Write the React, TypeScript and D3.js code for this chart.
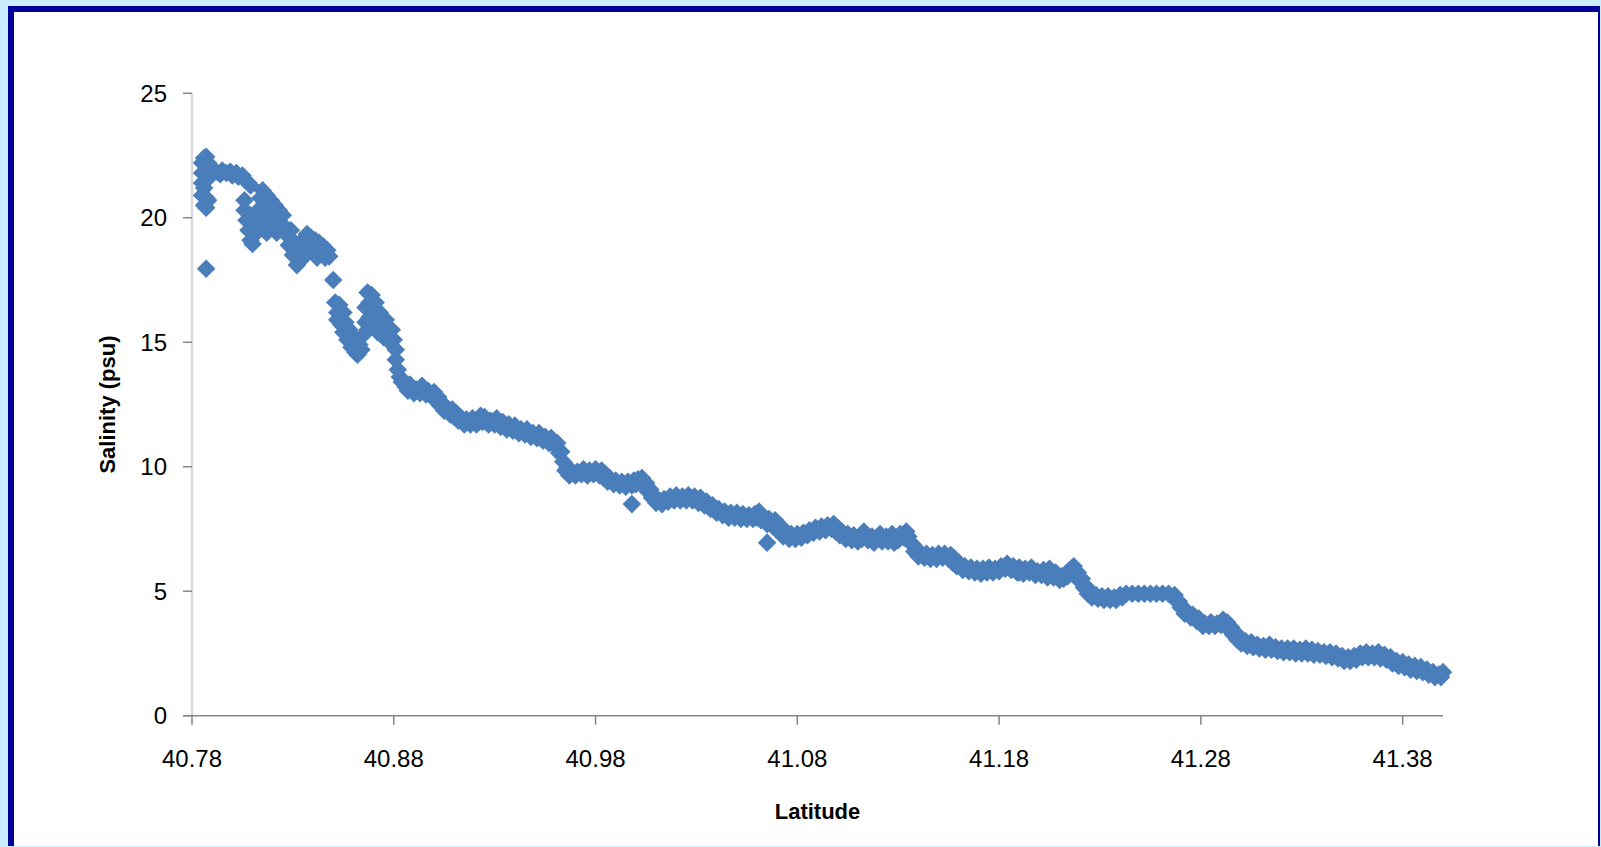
import React from 'react';
import * as d3 from 'd3';

// latitude / salinity readings, split by stretch of the river
const mouthCluster: [number, number][] = [
  [40.785, 22.2], [40.786, 22.4], [40.787, 22.45], [40.788, 22.2], [40.785, 21.8],
  [40.787, 21.9], [40.789, 21.95], [40.785, 21.4], [40.787, 21.5], [40.786, 21.2],
  [40.785, 20.9], [40.787, 20.8], [40.786, 20.5], [40.787, 20.4], [40.788, 20.7],
  [40.787, 17.95],
  [40.790, 21.8], [40.792, 21.85], [40.794, 21.75], [40.795, 21.9], [40.797, 21.8],
  [40.799, 21.85], [40.800, 21.7], [40.802, 21.8], [40.803, 21.65], [40.805, 21.7],
  [40.806, 21.55], [40.808, 21.4], [40.809, 21.3],
  [40.806, 20.7], [40.806, 20.3], [40.807, 19.9], [40.808, 19.5], [40.809, 19.1],
  [40.810, 18.95], [40.810, 19.6], [40.809, 20.1], [40.812, 19.4], [40.813, 19.8],
  [40.814, 20.4], [40.814, 20.8], [40.815, 21.1], [40.816, 20.6], [40.816, 20.1],
  [40.815, 19.6], [40.817, 19.4], [40.818, 19.9], [40.818, 20.5], [40.817, 20.9],
  [40.819, 20.7], [40.820, 20.2], [40.820, 19.6], [40.821, 20.5], [40.822, 19.9],
  [40.822, 19.4], [40.823, 20.3], [40.824, 19.8], [40.825, 20.1], [40.826, 19.5],
  [40.827, 19.3], [40.828, 18.9], [40.829, 19.5], [40.830, 18.5], [40.831, 19.0],
  [40.832, 18.1], [40.833, 18.6], [40.834, 18.3], [40.835, 18.9], [40.836, 19.2],
  [40.837, 19.35], [40.838, 18.7], [40.839, 19.2], [40.840, 18.6], [40.841, 19.1],
  [40.842, 18.4], [40.843, 19.0], [40.844, 18.6], [40.845, 18.85], [40.846, 18.4],
  [40.847, 18.7], [40.848, 18.45], [40.850, 17.5],
  [40.851, 16.6], [40.852, 16.2], [40.853, 16.5], [40.852, 15.9], [40.854, 15.7],
  [40.855, 16.2], [40.855, 15.4], [40.856, 15.8], [40.857, 15.1], [40.858, 15.5],
  [40.859, 14.8], [40.860, 15.2], [40.861, 14.6], [40.862, 14.5], [40.863, 14.9],
  [40.864, 14.7], [40.865, 15.3], [40.866, 15.8], [40.866, 16.4], [40.867, 17.0],
  [40.868, 16.6], [40.868, 16.0], [40.867, 15.5], [40.869, 16.9], [40.870, 16.4],
  [40.870, 15.7], [40.871, 16.6], [40.872, 16.1], [40.872, 15.4], [40.873, 16.2],
  [40.874, 15.7], [40.875, 15.2], [40.876, 15.9], [40.877, 15.4], [40.878, 15.0],
  [40.879, 15.5], [40.880, 15.1], [40.881, 14.7], [40.881, 14.3], [40.882, 13.9],
  [40.883, 13.6], [40.884, 13.4], [40.886, 13.2],
];

const lowerRiver: [number, number][] = [
  [40.888, 13.3], [40.891, 13.1], [40.894, 13.25], [40.897, 13.05], [40.900, 13.0],
  [40.902, 12.8], [40.904, 12.55], [40.906, 12.4], [40.909, 12.3], [40.911, 12.15],
  [40.913, 12.0], [40.916, 11.9], [40.919, 11.95], [40.922, 11.9], [40.923, 12.05],
  [40.925, 12.0], [40.928, 11.85], [40.931, 11.95], [40.934, 11.8], [40.937, 11.7],
  [40.940, 11.65], [40.943, 11.5], [40.946, 11.5], [40.949, 11.35], [40.952, 11.35],
  [40.955, 11.2], [40.958, 11.15], [40.961, 10.95], [40.963, 10.6], [40.964, 10.2],
  [40.966, 9.95], [40.968, 9.85], [40.971, 9.8], [40.974, 9.9], [40.977, 9.85],
  [40.980, 9.9], [40.983, 9.85], [40.985, 9.7], [40.987, 9.55], [40.990, 9.45],
  [40.993, 9.4], [40.996, 9.4], [40.999, 9.45], [41.001, 9.5], [41.003, 9.55],
  [41.005, 9.35], [41.007, 9.1], [41.009, 8.85], [41.011, 8.65], [41.014, 8.7],
  [41.017, 8.8], [41.020, 8.85], [41.023, 8.8], [41.026, 8.85], [41.029, 8.8],
  [41.032, 8.75], [41.035, 8.6], [41.038, 8.45], [41.041, 8.3], [41.044, 8.2],
  [41.047, 8.15], [41.050, 8.15], [41.053, 8.1], [41.056, 8.05], [41.059, 8.1],
  [41.061, 8.2], [41.063, 8.0], [41.066, 7.9], [41.069, 7.85], [41.072, 7.6],
  [41.074, 7.35], [41.077, 7.3], [41.080, 7.3], [41.083, 7.35], [41.086, 7.45],
  [41.089, 7.55], [41.092, 7.6], [41.095, 7.65], [41.098, 7.7], [41.100, 7.55],
  [41.102, 7.4], [41.105, 7.3], [41.108, 7.25], [41.111, 7.2], [41.113, 7.4],
  [41.117, 7.2], [41.120, 7.15], [41.121, 7.3], [41.124, 7.2], [41.127, 7.3],
  [41.129, 7.15], [41.131, 7.3], [41.134, 7.4], [41.135, 7.2], [41.137, 6.9],
  [41.139, 6.7],
];

// lower edge of the same stretch (the band is wider than one marker)
const lowerRiverB: [number, number][] = [
  [40.887, 13.05], [40.890, 12.95], [40.893, 12.95], [40.896, 12.9], [40.899, 12.8],
  [40.901, 12.65], [40.903, 12.45], [40.905, 12.25], [40.908, 12.1], [40.910, 12.0],
  [40.912, 11.85], [40.915, 11.7], [40.918, 11.7], [40.921, 11.7], [40.924, 11.8],
  [40.927, 11.7], [40.930, 11.7], [40.933, 11.6], [40.936, 11.5], [40.939, 11.45],
  [40.942, 11.35], [40.945, 11.3], [40.948, 11.2], [40.951, 11.15], [40.954, 11.05],
  [40.957, 10.95], [40.960, 10.85], [40.962, 10.55], [40.965, 9.85], [40.967, 9.65],
  [40.970, 9.65], [40.973, 9.7], [40.976, 9.65], [40.979, 9.7], [40.982, 9.65],
  [40.984, 9.55], [40.986, 9.4], [40.989, 9.3], [40.992, 9.25], [40.995, 9.2],
  [40.998, 9.25], [41.000, 9.3], [41.002, 9.35], [41.004, 9.25], [41.006, 9.0],
  [41.008, 8.75], [41.010, 8.55], [41.013, 8.5], [41.016, 8.6], [41.019, 8.65],
  [41.022, 8.65], [41.025, 8.65], [41.028, 8.65], [41.031, 8.55], [41.034, 8.45],
  [41.037, 8.3], [41.040, 8.15], [41.043, 8.05], [41.046, 7.95], [41.049, 7.95],
  [41.052, 7.9], [41.055, 7.9], [41.058, 7.9], [41.060, 7.95], [41.062, 7.85],
  [41.065, 7.7], [41.068, 7.6], [41.070, 7.45], [41.073, 7.2], [41.076, 7.1],
  [41.079, 7.1], [41.082, 7.15], [41.085, 7.25], [41.088, 7.35], [41.091, 7.4],
  [41.094, 7.45], [41.097, 7.5], [41.099, 7.4], [41.101, 7.25], [41.104, 7.1],
  [41.107, 7.05], [41.110, 7.0], [41.112, 7.1], [41.115, 7.05], [41.118, 6.95],
  [41.122, 7.0], [41.125, 7.0], [41.128, 6.95], [41.130, 7.05], [41.133, 7.15],
  [41.136, 6.95], [41.138, 6.6],
];

const upperRiver: [number, number][] = [
  [41.141, 6.55], [41.144, 6.5], [41.147, 6.45], [41.150, 6.5], [41.153, 6.5],
  [41.156, 6.45], [41.158, 6.3], [41.160, 6.15], [41.163, 6.0], [41.166, 5.95],
  [41.169, 5.9], [41.172, 5.9], [41.175, 5.95], [41.178, 5.9], [41.181, 6.0],
  [41.184, 6.1], [41.187, 6.0], [41.190, 5.95], [41.190, 5.75], [41.193, 5.9],
  [41.196, 5.95], [41.199, 5.8], [41.202, 5.85], [41.205, 5.7], [41.205, 5.9],
  [41.208, 5.75], [41.211, 5.6], [41.213, 5.7], [41.215, 5.85], [41.217, 6.0],
  [41.219, 5.75], [41.221, 5.5], [41.223, 5.2], [41.225, 4.95], [41.228, 4.85],
  [41.231, 4.8], [41.234, 4.8], [41.237, 4.75], [41.240, 4.85], [41.243, 4.9],
  [41.246, 4.9], [41.249, 4.9], [41.252, 4.9], [41.255, 4.9], [41.258, 4.9],
  [41.261, 4.9], [41.264, 4.9], [41.267, 4.85], [41.269, 4.6], [41.271, 4.35],
  [41.273, 4.2], [41.276, 4.05], [41.279, 3.9], [41.282, 3.7], [41.285, 3.75],
  [41.288, 3.7], [41.291, 3.85], [41.293, 3.75], [41.295, 3.55], [41.297, 3.35],
  [41.299, 3.15], [41.302, 3.0], [41.305, 2.95], [41.308, 2.85], [41.311, 2.8],
  [41.314, 2.85], [41.317, 2.75], [41.320, 2.7], [41.323, 2.7], [41.326, 2.7],
  [41.329, 2.65], [41.332, 2.7], [41.335, 2.65], [41.338, 2.6], [41.341, 2.55],
  [41.344, 2.55], [41.347, 2.5], [41.350, 2.4], [41.353, 2.35], [41.356, 2.4],
  [41.359, 2.5], [41.362, 2.55], [41.365, 2.5], [41.368, 2.55], [41.371, 2.45],
  [41.374, 2.35], [41.377, 2.2], [41.380, 2.15], [41.383, 2.05], [41.386, 2.0],
  [41.389, 1.95], [41.392, 1.85], [41.395, 1.75], [41.398, 1.65], [41.400, 1.75],
];

const upperRiverB: [number, number][] = [
  [41.140, 6.4], [41.143, 6.35], [41.146, 6.3], [41.149, 6.3], [41.152, 6.35],
  [41.155, 6.3], [41.157, 6.15], [41.159, 6.0], [41.162, 5.85], [41.165, 5.8],
  [41.168, 5.75], [41.171, 5.7], [41.174, 5.75], [41.177, 5.75], [41.180, 5.8],
  [41.183, 5.9], [41.186, 5.85], [41.189, 5.75], [41.192, 5.7], [41.195, 5.75],
  [41.198, 5.65], [41.201, 5.65], [41.204, 5.55], [41.207, 5.55], [41.210, 5.45],
  [41.212, 5.5], [41.214, 5.6], [41.216, 5.75], [41.218, 5.65], [41.220, 5.4],
  [41.222, 5.15], [41.224, 4.9], [41.226, 4.75], [41.229, 4.7], [41.232, 4.65],
  [41.235, 4.65], [41.238, 4.65], [41.241, 4.75], [41.268, 4.6], [41.270, 4.35],
  [41.272, 4.1], [41.275, 3.95], [41.278, 3.8], [41.281, 3.6], [41.284, 3.6],
  [41.287, 3.6], [41.290, 3.65], [41.292, 3.65], [41.294, 3.45], [41.296, 3.25],
  [41.298, 3.05], [41.300, 2.9], [41.303, 2.8], [41.306, 2.75], [41.309, 2.7],
  [41.312, 2.65], [41.315, 2.65], [41.318, 2.6], [41.321, 2.55], [41.324, 2.55],
  [41.327, 2.5], [41.330, 2.5], [41.333, 2.5], [41.336, 2.45], [41.339, 2.45],
  [41.342, 2.4], [41.345, 2.35], [41.348, 2.3], [41.351, 2.2], [41.354, 2.2],
  [41.357, 2.25], [41.360, 2.35], [41.363, 2.35], [41.366, 2.35], [41.369, 2.3],
  [41.372, 2.25], [41.375, 2.1], [41.378, 2.0], [41.381, 1.95], [41.384, 1.85],
  [41.387, 1.8], [41.390, 1.75], [41.393, 1.65], [41.396, 1.55], [41.399, 1.55],
];

const outliers: [number, number][] = [[40.998, 8.5], [41.065, 6.95]];

const xTicks = [40.78, 40.88, 40.98, 41.08, 41.18, 41.28, 41.38];
const yTicks = [0, 5, 10, 15, 20, 25];

const W = 1601;
const H = 847;
const font = '"Liberation Sans", Arial, sans-serif';

export default function App() {
  const x = d3.scaleLinear().domain([40.78, 41.4]).range([192, 1443]);
  const y = d3.scaleLinear().domain([0, 25]).range([715.7, 93.3]);
  const points = [...mouthCluster, ...lowerRiver, ...lowerRiverB, ...upperRiver, ...upperRiverB, ...outliers];
  const r = 9.3;
  const diamond = `M0,${-r}L${r},0L0,${r}L${-r},0Z`;

  return (
    <svg width={W} height={H} style={{ position: 'absolute', left: 0, top: 0 }}>
      <rect x={0} y={0} width={W} height={H} fill="#ccecff" />
      <rect x={8} y={6} width={1592} height={840} fill="#000099" />
      <rect x={14} y={12} width={1584} height={834} fill="#ffffff" />

      {/* y axis */}
      <line x1={192} x2={192} y1={y(25)} y2={y(0)} stroke="#d9d9d9" strokeWidth={2.5} />
      {yTicks.map(t => (
        <g key={t}>
          <line x1={183} x2={192} y1={y(t)} y2={y(t)} stroke="#868686" strokeWidth={1.5} />
          <text x={167} y={y(t)} textAnchor="end" dominantBaseline="central"
            fontFamily={font} fontSize={24} fill="#000">{t}</text>
        </g>
      ))}

      {/* x axis */}
      <line x1={183} x2={1443} y1={y(0)} y2={y(0)} stroke="#868686" strokeWidth={1.5} />
      {xTicks.map(t => (
        <g key={t}>
          <line x1={x(t)} x2={x(t)} y1={y(0)} y2={y(0) + 9} stroke="#868686" strokeWidth={1.5} />
          <text x={x(t)} y={767} textAnchor="middle" fontFamily={font} fontSize={24} fill="#000">
            {t.toFixed(2)}
          </text>
        </g>
      ))}

      {points.map((p, i) => (
        <path key={i} d={diamond} transform={`translate(${x(p[0])},${y(p[1])})`} fill="#4a7ebb" />
      ))}

      <text x={(192 + 1443) / 2} y={819} textAnchor="middle" fontFamily={font}
        fontSize={22} fontWeight="bold" fill="#000">Latitude</text>
      <text transform={`translate(115,${(y(0) + y(25)) / 2}) rotate(-90)`} textAnchor="middle"
        fontFamily={font} fontSize={22} fontWeight="bold" fill="#000">Salinity (psu)</text>
    </svg>
  );
}
